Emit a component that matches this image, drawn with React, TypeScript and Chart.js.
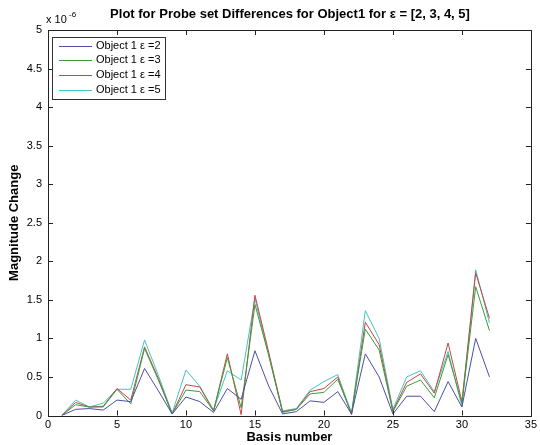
import React, { useEffect, useRef } from "react";
import { Chart, registerables } from "chart.js";

Chart.register(...registerables);

// Values in units of 1e-6
const basis = [1, 2, 3, 4, 5, 6, 7, 8, 9, 10, 11, 12, 13, 14, 15, 16, 17, 18, 19, 20, 21, 22, 23, 24, 25, 26, 27, 28, 29, 30, 31, 32];
const eps2 = [0, 0.08, 0.09, 0.07, 0.2, 0.18, 0.61, 0.32, 0.02, 0.24, 0.18, 0.04, 0.35, 0.21, 0.84, 0.38, 0.02, 0.05, 0.19, 0.17, 0.31, 0.02, 0.8, 0.5, 0.02, 0.25, 0.25, 0.05, 0.44, 0.11, 1.0, 0.5];
const eps3 = [0, 0.14, 0.11, 0.11, 0.34, 0.15, 0.87, 0.46, 0.02, 0.33, 0.31, 0.06, 0.75, 0.1, 1.44, 0.78, 0.04, 0.08, 0.28, 0.3, 0.47, 0.03, 1.12, 0.85, 0.05, 0.38, 0.46, 0.23, 0.79, 0.16, 1.67, 1.1];
const eps4 = [0, 0.17, 0.11, 0.12, 0.35, 0.2, 0.89, 0.48, 0.02, 0.4, 0.37, 0.06, 0.8, 0.01, 1.56, 0.82, 0.05, 0.08, 0.31, 0.35, 0.5, 0.01, 1.21, 0.92, 0.06, 0.43, 0.54, 0.29, 0.94, 0.18, 1.85, 1.26];
const eps5 = [0, 0.2, 0.11, 0.16, 0.34, 0.34, 0.98, 0.52, 0.03, 0.59, 0.38, 0.07, 0.58, 0.46, 1.52, 0.78, 0.06, 0.09, 0.33, 0.44, 0.53, 0.03, 1.36, 1.0, 0.08, 0.5, 0.58, 0.31, 0.83, 0.12, 1.89, 1.2];
const seriesLabels = ["Object 1 ε =2", "Object 1 ε =3", "Object 1 ε =4", "Object 1 ε =5"];
const seriesColors = ["#4e4ea6", "#3c9c3c", "#c84444", "#44c4c4"];
const xTicks = [0, 5, 10, 15, 20, 25, 30, 35];
const yTicks = [0, 0.5, 1, 1.5, 2, 2.5, 3, 3.5, 4, 4.5, 5];
const titleText = "Plot for Probe set Differences for Object1 for ε = [2, 3, 4, 5]";
const xTitle = "Basis number";
const yTitle = "Magnitude Change";

const FONT = "'Liberation Sans', Arial, sans-serif";

const decorPlugin = {
  id: "decor",
  afterDraw(chart: any) {
    const ctx = chart.ctx;
    const a = chart.chartArea;
    const xs = chart.scales.x;
    const ys = chart.scales.y;
    ctx.save();
    // box
    ctx.strokeStyle = "#222";
    ctx.lineWidth = 1;
    ctx.strokeRect(Math.round(a.left) + 0.5, Math.round(a.top) + 0.5, Math.round(a.right - a.left), Math.round(a.bottom - a.top));
    // ticks inward
    const tl = 5;
    ctx.beginPath();
    xTicks.forEach((v) => {
      const px = Math.round(xs.getPixelForValue(v)) + 0.5;
      ctx.moveTo(px, a.bottom);
      ctx.lineTo(px, a.bottom - tl);
      ctx.moveTo(px, a.top);
      ctx.lineTo(px, a.top + tl);
    });
    yTicks.forEach((v) => {
      const py = Math.round(ys.getPixelForValue(v)) + 0.5;
      ctx.moveTo(a.left, py);
      ctx.lineTo(a.left + tl, py);
      ctx.moveTo(a.right, py);
      ctx.lineTo(a.right - tl, py);
    });
    ctx.stroke();

    // title
    ctx.fillStyle = "#000";
    ctx.font = `bold 13px ${FONT}`;
    ctx.textAlign = "center";
    ctx.textBaseline = "middle";
    ctx.fillText(titleText, 290, 14);
    // x title
    ctx.fillText(xTitle, (a.left + a.right) / 2, 437);
    // y title
    ctx.save();
    ctx.translate(14, (a.top + a.bottom) / 2);
    ctx.rotate(-Math.PI / 2);
    ctx.fillText(yTitle, 0, 0);
    ctx.restore();
    // exponent
    ctx.font = `11px ${FONT}`;
    ctx.textAlign = "left";
    ctx.fillText("x 10", 46, 20);
    ctx.font = `8px ${FONT}`;
    ctx.fillText("-6", 69, 15);

    // legend
    const lx = 52, ly = 37, lw = 113, lh = 62;
    ctx.fillStyle = "#fff";
    ctx.fillRect(lx, ly, lw, lh);
    ctx.strokeStyle = "#333";
    ctx.strokeRect(lx + 0.5, ly + 0.5, lw, lh);
    ctx.font = `11px ${FONT}`;
    seriesLabels.forEach((lab, i) => {
      const yy = 45.5 + i * 14.7;
      ctx.strokeStyle = seriesColors[i];
      ctx.beginPath();
      ctx.moveTo(59, Math.round(yy) + 0.5);
      ctx.lineTo(92, Math.round(yy) + 0.5);
      ctx.stroke();
      ctx.fillStyle = "#000";
      ctx.fillText(lab, 96, yy);
    });
    ctx.restore();
  },
};

export default function App() {
  const ref = useRef<HTMLCanvasElement | null>(null);
  useEffect(() => {
    if (!ref.current) return;
    const all = [eps2, eps3, eps4, eps5];
    const chart = new Chart(ref.current, {
      type: "line",
      data: {
        datasets: all.map((vals, i) => ({
          label: seriesLabels[i],
          data: basis.map((b, j) => ({ x: b, y: vals[j] })),
          borderColor: seriesColors[i],
          backgroundColor: seriesColors[i],
          borderWidth: 1,
          pointRadius: 0,
          tension: 0,
          fill: false,
        })),
      },
      options: {
        responsive: false,
        animation: false,
        events: [],
        layout: { padding: { top: 30, right: 6, left: 0, bottom: 0 } },
        plugins: { legend: { display: false }, title: { display: false }, tooltip: { enabled: false } },
        scales: {
          x: {
            type: "linear",
            min: 0,
            max: 35,
            afterBuildTicks: (s: any) => { s.ticks = xTicks.map((v) => ({ value: v })); },
            afterFit: (s: any) => { s.height = 29.5; },
            grid: { display: false, drawTicks: false, tickLength: 0 },
            border: { display: false },
            ticks: { color: "#000", padding: 3, maxRotation: 0, font: { family: FONT, size: 11 }, callback: (v: any) => String(v) },
          },
          y: {
            type: "linear",
            min: 0,
            max: 5,
            afterBuildTicks: (s: any) => { s.ticks = yTicks.map((v) => ({ value: v })); },
            afterFit: (s: any) => { s.width = 48; },
            grid: { display: false, drawTicks: false, tickLength: 0 },
            border: { display: false },
            ticks: { color: "#000", padding: 6, font: { family: FONT, size: 11 }, callback: (v: any) => String(v) },
          },
        },
      },
      plugins: [decorPlugin],
    } as any);
    return () => chart.destroy();
  }, []);
  return (
    <div style={{ position: "fixed", left: 0, top: 0, width: 540, height: 445, background: "#fff" }}>
      <canvas ref={ref} width={540} height={445} style={{ display: "block" }} />
    </div>
  );
}
